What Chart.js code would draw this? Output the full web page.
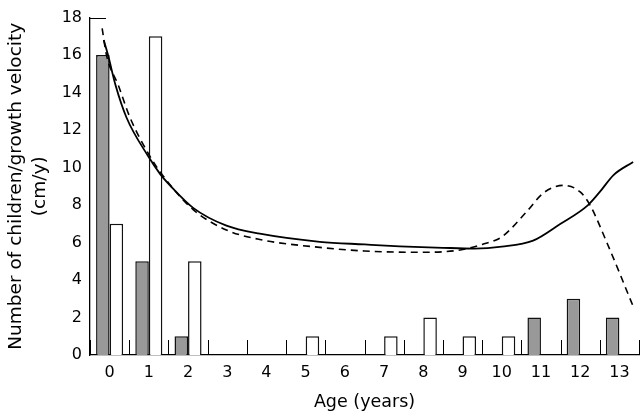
<!DOCTYPE html>
<html>
<head>
<meta charset="utf-8">
<script src="https://cdn.jsdelivr.net/npm/chart.js@4/dist/chart.umd.min.js"></script>
<style>
html,body{margin:0;padding:0;background:#fff;}
#wrap{width:640px;height:413px;}
</style>
</head>
<body>
<div id="wrap"><canvas id="c" width="640" height="413"></canvas></div>
<script>
const categories = ['0','1','2','3','4','5','6','7','8','9','10','11','12','13'];
const greyCounts  = [16, 5, 1, null, null, null, null, null, null, null, null, 2, 3, 2];
const whiteCounts = [7, 17, 5, null, null, 1, null, 1, 2, 1, 1, null, null, null];

const solidAges   = [-0.15, -0.04, 0.15, 0.43, 0.985, 1.29, 1.54, 2.13, 2.98, 3.83, 5.36, 6.5, 7.4, 8.5, 9.3, 10.0, 10.8, 11.5, 12.2, 12.5, 12.85, 13.35];
const solidValues = [16.8, 16.0, 14.4, 12.67, 10.6, 9.65, 9.05, 7.85, 6.9, 6.47, 6.04, 5.9, 5.8, 5.72, 5.68, 5.78, 6.1, 7.0, 8.0, 8.7, 9.6, 10.3];

const dashedAges   = [-0.19, -0.08, 0.22, 0.52, 1.03, 1.36, 2.13, 2.98, 3.83, 5.36, 6.5, 7.92, 8.94, 9.5, 10.0, 10.64, 11.06, 11.57, 12.0, 12.25, 12.69, 13.35];
const dashedValues = [17.43, 16.0, 14.4, 12.67, 10.6, 9.57, 7.76, 6.67, 6.16, 5.74, 5.55, 5.48, 5.6, 5.9, 6.3, 7.66, 8.64, 9.05, 8.7, 8.0, 5.95, 2.6];

const yMin = 0, yMax = 18, yStep = 2;
const xTitle = 'Age (years)';
const yTitle = ['Number of children/growth velocity', '(cm/y)'];

const toPts = (xs, ys) => xs.map((x, i) => ({x: x, y: ys[i]}));
const barPts = (vals) => categories.map((c, i) => ({x: i, y: vals[i]}));
const FONT = 'DejaVu Sans';

const inwardTicks = {
  id: 'inwardTicks',
  afterDraw(chart) {
    const ctx = chart.ctx;
    const xs = chart.scales.x;
    const ys = chart.scales.y;
    const bottom = ys.getPixelForValue(yMin);
    ctx.save();
    ctx.strokeStyle = '#000';
    ctx.lineWidth = 1;
    for (let i = 0; i <= categories.length; i++) {
      const px = Math.round(xs.getPixelForValue(i - 0.5)) + 0.5;
      ctx.beginPath();
      ctx.moveTo(px, bottom);
      ctx.lineTo(px, bottom - 15);
      ctx.stroke();
    }
    const top = Math.round(ys.getPixelForValue(yMax)) + 0.5;
    ctx.beginPath();
    ctx.moveTo(chart.chartArea.left, top);
    ctx.lineTo(chart.chartArea.left + 16, top);
    ctx.stroke();
    ctx.restore();
  }
};

new Chart(document.getElementById('c'), {
  type: 'bar',
  data: {
    datasets: [
      {
        data: barPts(greyCounts), backgroundColor: '#999999', borderColor: '#111', borderWidth: 1.5,
        categoryPercentage: 0.69, barPercentage: 1.0, borderSkipped: 'bottom', order: 2
      },
      {
        data: barPts(whiteCounts), backgroundColor: '#ffffff', borderColor: '#111', borderWidth: 1.5,
        categoryPercentage: 0.69, barPercentage: 1.0, borderSkipped: 'bottom', order: 2
      },
      {
        type: 'line', data: toPts(solidAges, solidValues),
        borderColor: '#000', borderWidth: 1.8, pointRadius: 0, fill: false,
        cubicInterpolationMode: 'monotone', order: 0
      },
      {
        type: 'line', data: toPts(dashedAges, dashedValues),
        borderColor: '#000', borderWidth: 1.6, borderDash: [7, 5], pointRadius: 0, fill: false,
        cubicInterpolationMode: 'monotone', order: 0
      }
    ]
  },
  options: {
    responsive: false,
    animation: false,
    devicePixelRatio: 1,
    layout: { padding: { top: 7, right: 1, left: 4, bottom: 0 } },
    plugins: { legend: { display: false }, tooltip: { enabled: false } },
    scales: {
      x: {
        type: 'linear', min: -0.5, max: categories.length - 0.5, offset: false,
        grid: { display: false, drawTicks: false, offset: false },
        border: { display: true, color: '#000', width: 1.3 },
        afterBuildTicks(s) { s.ticks = categories.map((c, i) => ({ value: i })); },
        ticks: {
          color: '#000', font: { family: FONT, size: 16 }, padding: 8, maxRotation: 0, autoSkip: false,
          callback: (v) => categories[v]
        },
        title: { display: true, text: xTitle, color: '#000', font: { family: FONT, size: 17.5 }, padding: { top: 3, bottom: 0 } },
        afterFit(s) { s.height = 58; }
      },
      y: {
        min: yMin, max: yMax, stacked: false,
        grid: { display: false, drawTicks: false },
        border: { display: true, color: '#000', width: 1.3 },
        ticks: { stepSize: yStep, color: '#000', font: { family: FONT, size: 16 }, padding: 8 },
        title: { display: true, text: yTitle, color: '#000', font: { family: FONT, size: 18.5, lineHeight: 1.3 }, padding: { top: 0, bottom: 4 } },
        afterFit(s) { s.width = 86; }
      }
    }
  },
  plugins: [inwardTicks]
});
</script>
</body>
</html>
